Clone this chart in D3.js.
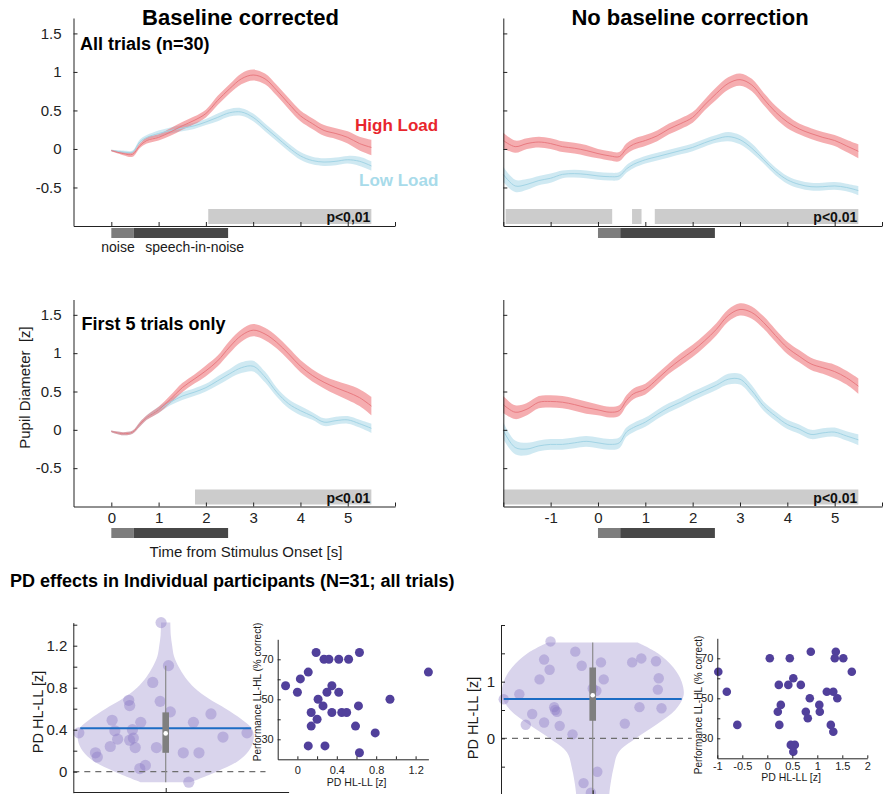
<!DOCTYPE html>
<html>
<head>
<meta charset="utf-8">
<script src="https://cdn.jsdelivr.net/npm/d3@7"></script>
<style>
  body { margin: 0; background: #fff; }
</style>
</head>
<body>
<div id="chart"></div>
<script>
// ---- pupil time courses (z units) ----
const timeBC = [0,0.25,0.45,0.6,0.75,1,1.25,1.5,1.75,2,2.25,2.5,2.75,3,3.25,3.5,3.75,4,4.25,4.5,4.75,5,5.25,5.5];
const timeNB = [-2,-1.75,-1.5,-1.25,-1,-0.75,-0.5,-0.25,0,0.25,0.45,0.6,0.75,1,1.25,1.5,1.75,2,2.25,2.5,2.75,3,3.25,3.5,3.75,4,4.25,4.5,4.75,5,5.25,5.5];

// all trials, baseline corrected
const highAllBC   = [-0.02,-0.06,-0.07,0.04,0.11,0.15,0.22,0.30,0.37,0.46,0.63,0.78,0.91,0.96,0.91,0.76,0.59,0.43,0.33,0.24,0.20,0.15,0.07,0.02];
const highAllBCse = [0.01,0.02,0.03,0.03,0.04,0.04,0.05,0.05,0.05,0.05,0.06,0.06,0.07,0.07,0.07,0.07,0.07,0.07,0.07,0.07,0.07,0.08,0.09,0.10];
const lowAllBC    = [-0.02,-0.04,-0.04,0.09,0.15,0.20,0.24,0.27,0.30,0.35,0.41,0.47,0.48,0.41,0.28,0.15,0.02,-0.09,-0.15,-0.17,-0.16,-0.14,-0.16,-0.22];
const lowAllBCse  = [0.01,0.02,0.02,0.03,0.03,0.04,0.04,0.04,0.04,0.04,0.05,0.05,0.05,0.05,0.05,0.05,0.05,0.05,0.05,0.05,0.05,0.05,0.06,0.06];

// all trials, no baseline correction
const highAllNB   = [0.11,0.03,0.07,0.09,0.07,0.03,0.01,-0.02,-0.06,-0.09,-0.10,0.00,0.06,0.11,0.17,0.26,0.33,0.41,0.57,0.72,0.85,0.90,0.83,0.65,0.48,0.35,0.26,0.20,0.15,0.11,0.04,-0.03];
const highAllNBse = [0.10,0.08,0.07,0.07,0.07,0.07,0.07,0.07,0.06,0.06,0.06,0.07,0.07,0.07,0.07,0.07,0.07,0.07,0.07,0.08,0.08,0.08,0.08,0.08,0.08,0.08,0.07,0.07,0.07,0.07,0.08,0.09];
const lowAllNB    = [-0.33,-0.48,-0.46,-0.41,-0.38,-0.33,-0.32,-0.33,-0.35,-0.36,-0.35,-0.26,-0.20,-0.14,-0.10,-0.06,-0.02,0.02,0.08,0.13,0.16,0.12,0.01,-0.14,-0.29,-0.40,-0.46,-0.49,-0.49,-0.48,-0.50,-0.54];
const lowAllNBse  = [0.10,0.08,0.07,0.06,0.06,0.05,0.05,0.05,0.05,0.05,0.05,0.05,0.05,0.05,0.05,0.05,0.05,0.05,0.05,0.05,0.06,0.06,0.06,0.05,0.05,0.05,0.05,0.05,0.05,0.05,0.05,0.06];

// first 5 trials, baseline corrected
const high5BC   = [-0.02,-0.05,-0.03,0.07,0.16,0.26,0.40,0.55,0.66,0.77,0.90,1.08,1.23,1.30,1.25,1.14,0.99,0.83,0.71,0.62,0.55,0.49,0.42,0.31];
const high5BCse = [0.01,0.02,0.02,0.03,0.03,0.04,0.05,0.06,0.06,0.07,0.07,0.08,0.08,0.08,0.08,0.08,0.08,0.08,0.08,0.08,0.09,0.10,0.11,0.12];
const low5BC    = [-0.02,-0.05,-0.03,0.07,0.16,0.26,0.36,0.44,0.49,0.55,0.64,0.73,0.81,0.83,0.69,0.49,0.34,0.25,0.18,0.10,0.12,0.13,0.08,0.02];
const low5BCse  = [0.01,0.02,0.02,0.03,0.03,0.04,0.04,0.05,0.05,0.05,0.06,0.06,0.07,0.07,0.07,0.06,0.06,0.06,0.05,0.05,0.05,0.05,0.05,0.06];

// first 5 trials, no baseline correction
const high5NB   = [0.33,0.23,0.27,0.36,0.37,0.36,0.33,0.29,0.26,0.23,0.25,0.38,0.47,0.53,0.66,0.80,0.92,1.03,1.16,1.31,1.49,1.57,1.53,1.40,1.23,1.07,0.96,0.86,0.81,0.76,0.68,0.57];
const high5NBse = [0.11,0.09,0.08,0.08,0.08,0.08,0.08,0.08,0.07,0.07,0.07,0.07,0.07,0.07,0.07,0.07,0.08,0.08,0.08,0.08,0.08,0.08,0.08,0.08,0.08,0.08,0.08,0.08,0.08,0.09,0.09,0.10];
const low5NB    = [-0.01,-0.23,-0.25,-0.21,-0.19,-0.19,-0.17,-0.15,-0.17,-0.19,-0.17,-0.03,0.03,0.10,0.20,0.29,0.36,0.44,0.51,0.58,0.66,0.66,0.51,0.31,0.18,0.07,0.01,-0.06,-0.04,-0.03,-0.08,-0.13];
const low5NBse  = [0.11,0.09,0.08,0.07,0.07,0.07,0.07,0.07,0.07,0.07,0.07,0.06,0.06,0.06,0.06,0.06,0.06,0.06,0.06,0.06,0.07,0.07,0.07,0.06,0.06,0.06,0.06,0.06,0.06,0.06,0.06,0.07];

// significant clusters (s) and stimulus windows
const sigAllBC = [[2.05,5.5]];
const sigAllNB = [[-1.95,0.3],[0.72,0.92],[1.2,5.5]];
const sig5BC   = [[1.77,5.5]];
const sig5NB   = [[-2,5.5]];
const noiseWin  = [0, 0.47];
const speechWin = [0.47, 2.47];

// ---- individual participants ----
const pdLeft     = [1.42,1.01,0.85,0.68,0.63,0.67,0.57,0.49,0.47,0.39,0.40,0.37,0.55,0.47,0.33,0.37,0.31,0.30,0.32,0.24,0.23,0.23,0.18,0.14,0.18,0.18,0.06,0.03,-0.10];
const jitterLeft = [-0.05,0.03,-0.14,-0.40,-0.39,-0.06,0.05,-0.58,-0.27,-0.55,-0.36,-0.94,0.49,0.30,0.62,0.88,-0.52,-0.39,-0.35,-0.60,-0.33,-0.10,-0.76,-0.74,0.19,0.36,-0.22,-0.28,0.25];
const violinLeftV = [1.42,1.3,1.2,1.1,1.0,0.9,0.8,0.7,0.6,0.5,0.4,0.3,0.2,0.1,0.0,-0.1];
const violinLeftW = [0.05,0.055,0.07,0.09,0.14,0.21,0.31,0.46,0.65,0.82,0.94,0.95,0.9,0.78,0.55,0.27];
const boxLeft   = [0.18, 0.365, 0.565];
const whiskLeft = [-0.10, 1.01];

const pdRight     = [1.71,1.53,1.39,1.28,1.34,1.21,1.34,1.41,1.36,1.04,1.04,1.06,0.88,0.84,0.86,0.78,0.69,0.55,0.47,0.43,0.55,0.53,0.28,0.22,0.24,0.07,0.26,-0.59,-0.79,-0.96,0.50];
const jitterRight = [-0.46,-0.19,-0.53,-0.12,0.09,-0.47,0.43,0.53,0.69,-0.58,0.12,0.72,0,0.04,0.71,-0.80,-0.97,-0.42,-0.39,-0.66,0.51,0.75,-0.53,-0.36,-0.73,-0.22,0.35,0.05,-0.10,-0.02,-0.41];
const violinRightV = [1.69,1.5,1.25,1.0,0.75,0.5,0.25,0,-0.25,-0.5,-0.75,-1.0,-1.1];
const violinRightW = [0.49,0.71,0.88,0.97,0.99,0.9,0.7,0.47,0.28,0.23,0.2,0.18,0.18];
const boxRight   = [0.31, 0.76, 1.25];
const whiskRight = [-1.1, 1.69];

const scatPdLeft    = [-0.12,0,0.03,0.11,0.19,0.27,0.32,0.52,0.42,0.63,1.33,0.35,0.30,0.42,0.21,0.94,0.26,0.62,0.14,0.35,0.45,0.50,0.20,0.14,0.59,0.79,0.11,0.28,0.63];
const scatPerfLeft  = [56.8,53.5,60.2,63.6,73.4,70,70,70,70,73.4,63.6,56.8,53.5,53.5,50,50,46.7,46.7,43.4,43.4,43.4,43.4,40,36.6,36.6,33.2,26.7,26.7,23.3];
const scatPdRight   = [-0.98,-0.81,-0.60,0.05,0.45,0.87,1.37,1.35,1.52,1.69,0.52,0.23,0.42,0.67,0.85,1.19,1.32,1.40,0.27,0.21,0.77,1.04,1.05,0.81,0.24,1.27,1.32,0.47,0.55,0.52];
const scatPerfRight = [63.3,53.3,36.7,70,70,73.3,73.3,70,70,63.3,60,56.7,56.7,56.7,50,53.3,53.3,50,46.7,43.3,43.3,46.7,43.3,40,36.7,36.7,33.3,26.7,26.7,23.3];

// ---------------------------------------------------------------
const font = "Arial, 'Liberation Sans', Helvetica, sans-serif";
const ink = "#222";
const svg = d3.select("#chart").append("svg")
    .attr("width", 885).attr("height", 794)
    .attr("font-family", font);

function label(x, y, str, size, o = {}) {
  return svg.append("text")
      .attr("x", x).attr("y", y)
      .attr("font-size", size)
      .attr("font-weight", o.bold ? "bold" : null)
      .attr("text-anchor", o.anchor || "start")
      .attr("fill", o.fill || "#1a1a1a")
      .attr("transform", o.rot ? `rotate(-90,${x},${y})` : null)
      .style("white-space", "pre")
      .text(str);
}

// d3.axis resets font attrs when called, so set them afterwards
const styleAxis = (g, size) => g.attr("font-size", size).attr("font-family", font).attr("color", ink);

// ---- the four time-course panels ----
const panels = [
  {left: 73.5, right: 395, top: 18, bottom: 226, xDomain: [-0.8, 6], t: timeBC,
   high: highAllBC, highSe: highAllBCse, low: lowAllBC, lowSe: lowAllBCse, sig: sigAllBC,
   p: "p<0,01", yLab: true, xLab: false, stimY: 228},
  {left: 503.3, right: 882, top: 18, bottom: 226, xDomain: [-2, 6], t: timeNB,
   high: highAllNB, highSe: highAllNBse, low: lowAllNB, lowSe: lowAllNBse, sig: sigAllNB,
   p: "p<0.01", yLab: false, xLab: false, stimY: 228},
  {left: 73.5, right: 395, top: 299.5, bottom: 506.5, xDomain: [-0.8, 6], t: timeBC,
   high: high5BC, highSe: high5BCse, low: low5BC, lowSe: low5BCse, sig: sig5BC,
   p: "p<0.01", yLab: true, xLab: true, stimY: 528},
  {left: 503.3, right: 882, top: 299.5, bottom: 506.5, xDomain: [-2, 6], t: timeNB,
   high: high5NB, highSe: high5NBse, low: low5NB, lowSe: low5NBse, sig: sig5NB,
   p: "p<0.01", yLab: false, xLab: true, stimY: 528}
];

panels.forEach(p => {
  const x = d3.scaleLinear().domain(p.xDomain).range([p.left, p.right]);
  const y = d3.scaleLinear().domain([-1, 1.7]).range([p.bottom, p.top]);
  const g = svg.append("g");

  // significance clusters
  g.selectAll("rect.sig").data(p.sig).join("rect")
      .attr("class", "sig")
      .attr("x", d => x(d[0])).attr("width", d => x(d[1]) - x(d[0]))
      .attr("y", p.bottom - 17).attr("height", 15)
      .attr("fill", "#cccccc");
  g.append("text")
      .attr("x", x(5.5) - 1).attr("y", p.bottom - 4)
      .attr("text-anchor", "end").attr("font-size", 14).attr("font-weight", "bold")
      .attr("fill", "#111").text(p.p);

  const band = d3.area().x(d => x(d.t)).y0(d => y(d.m - d.s)).y1(d => y(d.m + d.s))
      .curve(d3.curveCatmullRom);
  const line = d3.line().x(d => x(d.t)).y(d => y(d.m)).curve(d3.curveCatmullRom);
  const series = [
    {rows: p.t.map((t, i) => ({t, m: p.low[i], s: p.lowSe[i]})), fill: "#9fd3e6", stroke: "#a2d4e5"},
    {rows: p.t.map((t, i) => ({t, m: p.high[i], s: p.highSe[i]})), fill: "#ec5c62", stroke: "#e97a80"}
  ];
  series.forEach(s => g.append("path").attr("d", band(s.rows)).attr("fill", s.fill).attr("fill-opacity", 0.5));
  series.forEach(s => g.append("path").attr("d", line(s.rows)).attr("fill", "none")
      .attr("stroke", s.stroke).attr("stroke-width", 1));

  // stimulus bar below the axis
  g.append("rect").attr("x", x(noiseWin[0])).attr("width", x(noiseWin[1]) - x(noiseWin[0]))
      .attr("y", p.stimY).attr("height", 10).attr("fill", "#7d7d7d");
  g.append("rect").attr("x", x(speechWin[0])).attr("width", x(speechWin[1]) - x(speechWin[0]))
      .attr("y", p.stimY).attr("height", 10).attr("fill", "#474747");

  // axes (ticks point inwards, as in matlab)
  const xTicks = d3.range(-2, 7).filter(v => v >= p.xDomain[0]);
  g.append("g").attr("transform", `translate(0,${p.bottom})`)
      .call(d3.axisBottom(x).tickValues(xTicks).tickSizeInner(-4).tickSizeOuter(0).tickPadding(6)
          .tickFormat(d => p.xLab && d >= -1 && d <= 5 ? String(d) : ""))
      .call(styleAxis, 15);
  g.append("g").attr("transform", `translate(${p.left},0)`)
      .call(d3.axisLeft(y).tickValues([-0.5, 0, 0.5, 1, 1.5]).tickSizeInner(-4).tickSizeOuter(0).tickPadding(12)
          .tickFormat(d => p.yLab ? String(d) : ""))
      .call(styleAxis, 15);
});

// panel text
label(240.5, 25, "Baseline corrected", 22, {bold: true, anchor: "middle", fill: "#000"});
label(690, 25, "No baseline correction", 22, {bold: true, anchor: "middle", fill: "#000"});
label(80, 50, "All trials (n=30)", 18, {bold: true, fill: "#000"});
label(81.5, 330, "First 5 trials only", 18, {bold: true, fill: "#000"});
label(355, 131, "High Load", 17, {bold: true, fill: "#e8262d"});
label(359, 186, "Low Load", 17, {bold: true, fill: "#a8dbea"});
label(118, 251.5, "noise", 14, {anchor: "middle"});
label(194.7, 251.5, "speech-in-noise", 14, {anchor: "middle"});
label(30, 387.5, "Pupil Diameter  [z]", 15, {anchor: "middle", rot: true});
label(246, 557, "Time from Stimulus Onset [s]", 15, {anchor: "middle"});
label(10, 587, "PD effects in Individual participants (N=31; all trials)", 18, {bold: true, fill: "#000"});

// ---- violins ----
const violins = [
  {vals: pdLeft, jit: jitterLeft, profV: violinLeftV, profW: violinLeftW, box: boxLeft, whisk: whiskLeft,
   left: 73.3, right: 288.6, top: 622.6, bottom: 792.7, yDomain: [-0.2, 1.42],
   yTicks: [0, 0.2, 0.4, 0.6, 0.8, 1, 1.2, 1.4], yLabels: [0, 0.4, 0.8, 1.2], r: 5.6,
   yTitle: [43, 712]},
  {vals: pdRight, jit: jitterRight, profV: violinRightV, profW: violinRightW, box: boxRight, whisk: whiskRight,
   left: 501, right: 714.7, top: 625, bottom: 795, yDomain: [-1, 2],
   yTicks: [-1, -0.5, 0, 0.5, 1, 1.5, 2], yLabels: [0, 1], r: 5.2,
   yTitle: [478, 718]}
];

violins.forEach(v => {
  const x = d3.scaleLinear().domain([-1, 1.33]).range([v.left, v.right]);
  const y = d3.scaleLinear().domain(v.yDomain).range([v.bottom, v.top]);
  const g = svg.append("g");
  const prof = v.profV.map((val, i) => ({val, w: v.profW[i]}));
  const widthAt = d3.scaleLinear().domain(v.profV).range(v.profW);
  const mean = d3.mean(v.vals);

  g.append("path")
      .attr("d", d3.area().y(d => y(d.val)).x0(d => x(-d.w)).x1(d => x(d.w)).curve(d3.curveCatmullRom)(prof))
      .attr("fill", "#d9d4ec");

  g.selectAll("circle.pt").data(v.vals).join("circle")
      .attr("class", "pt")
      .attr("cx", (d, i) => x(v.jit[i])).attr("cy", d => y(d)).attr("r", v.r)
      .attr("fill", "#8c7dc6").attr("fill-opacity", 0.42);

  // zero line
  g.append("line").attr("x1", x(-1)).attr("x2", x(1.08)).attr("y1", y(0)).attr("y2", y(0))
      .attr("stroke", "#6e6e6e").attr("stroke-width", 1.3).attr("stroke-dasharray", "6,5");
  // mean
  g.append("line").attr("x1", x(-widthAt(mean))).attr("x2", x(widthAt(mean)))
      .attr("y1", y(mean)).attr("y2", y(mean))
      .attr("stroke", "#1c6cc4").attr("stroke-width", 2);
  // box plot
  g.append("line").attr("x1", x(0)).attr("x2", x(0)).attr("y1", y(v.whisk[0])).attr("y2", y(v.whisk[1]))
      .attr("stroke", "#8a8a8a").attr("stroke-width", 1.2);
  g.append("rect").attr("x", x(0) - 3.3).attr("width", 6.6)
      .attr("y", y(v.box[2])).attr("height", y(v.box[0]) - y(v.box[2]))
      .attr("fill", "#7f7f7f");
  g.append("circle").attr("cx", x(0)).attr("cy", y(v.box[1])).attr("r", 2.3).attr("fill", "#fff");

  g.append("g").attr("transform", `translate(${v.left},0)`)
      .call(d3.axisLeft(y).tickValues(v.yTicks).tickSizeInner(-4).tickSizeOuter(0).tickPadding(6)
          .tickFormat(d => v.yLabels.includes(d) ? String(d) : ""))
      .call(styleAxis, 15);
  g.append("g").attr("transform", `translate(0,${v.bottom - 0.7})`)
      .call(d3.axisBottom(x).tickValues([0]).tickSizeInner(-4).tickSizeOuter(0).tickFormat(() => ""))
      .call(styleAxis, 15);

  label(v.yTitle[0], v.yTitle[1], "PD HL-LL [z]", 14.5, {anchor: "middle", rot: true});
});

// ---- behaviour scatter insets ----
const insets = [
  {pd: scatPdLeft, perf: scatPerfLeft, left: 277.7, right: 428.4, top: 639.3, bottom: 759.3,
   xDomain: [-0.2, 1.33], xTicks: [0, 0.2, 0.4, 0.6, 0.8, 1, 1.2], xLabels: [0, 0.4, 0.8, 1.2],
   r: 4.5, pad: 7, yTitle: [261, 692], xTitle: [356.7, 786]},
  {pd: scatPdRight, perf: scatPerfRight, left: 717.3, right: 867.3, top: 638.3, bottom: 758.3,
   xDomain: [-1, 2], xTicks: [-1, -0.5, 0, 0.5, 1, 1.5, 2], xLabels: [-1, -0.5, 0, 0.5, 1, 1.5, 2],
   r: 4.3, pad: 4, yTitle: [702, 705], xTitle: [791, 781]}
];

insets.forEach(s => {
  const x = d3.scaleLinear().domain(s.xDomain).range([s.left, s.right]);
  const y = d3.scaleLinear().domain([20, 80]).range([s.bottom, s.top]);
  const g = svg.append("g");

  g.selectAll("circle").data(s.pd).join("circle")
      .attr("cx", d => x(d)).attr("cy", (d, i) => y(s.perf[i])).attr("r", s.r)
      .attr("fill", "#51409b");

  g.append("g").attr("transform", `translate(0,${s.bottom})`)
      .call(d3.axisBottom(x).tickValues(s.xTicks).tickSizeInner(-3).tickSizeOuter(0).tickPadding(s.pad)
          .tickFormat(d => s.xLabels.includes(d) ? String(d) : ""))
      .call(styleAxis, 11);
  g.append("g").attr("transform", `translate(${s.left},0)`)
      .call(d3.axisLeft(y).tickValues([30, 40, 50, 60, 70]).tickSizeInner(-3).tickSizeOuter(0).tickPadding(4)
          .tickFormat(d => [30, 50, 70].includes(d) ? String(d) : ""))
      .call(styleAxis, 11);

  label(s.yTitle[0], s.yTitle[1], "Performance LL-HL (% correct)", 10, {anchor: "middle", rot: true});
  label(s.xTitle[0], s.xTitle[1], "PD HL-LL [z]", 10.5, {anchor: "middle"});
});
</script>
</body>
</html>
